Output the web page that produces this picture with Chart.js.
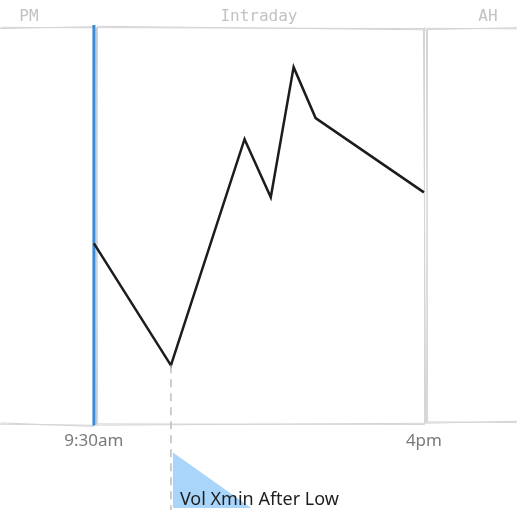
<!DOCTYPE html>
<html>
<head>
<meta charset="utf-8">
<script src="https://cdn.jsdelivr.net/npm/chart.js@4.4.1/dist/chart.umd.min.js"></script>
<style>
  html, body { margin: 0; padding: 0; background: #fff; }
  #wrap { width: 517px; height: 520px; }
</style>
</head>
<body>
<div id="wrap"><canvas id="chart"></canvas></div>
<script>
'use strict';

// minutes since midnight for each price point
const times  = [570, 661, 748, 779, 806, 832, 960];
const prices = [45.6, 14.9, 71.8, 57.2, 89.9, 77.1, 58.4];

// session boundaries and labels
const sessionNames = ['PM', 'Intraday', 'AH'];
const openTime  = 570;   // 9:30am
const closeTime = 960;   // 4pm
const tickTimes  = [openTime, closeTime];
const tickLabels = ['9:30am', '4pm'];

// volume window after the low
const volWindowMin = 95;
const volLabel = 'Vol Xmin After Low';

// a line drawn twice with small fixed wobble, sketch style
function roughLine(ctx, x1, y1, x2, y2, d) {
  d = d || 1.2;
  ctx.beginPath();
  ctx.moveTo(x1 - d * 0.4, y1 + d * 0.5);
  ctx.lineTo(x2 + d * 0.6, y2 - d * 0.3);
  ctx.moveTo(x1 + d * 0.5, y1 - d * 0.6);
  ctx.lineTo(x2 - d * 0.3, y2 + d * 0.7);
  ctx.stroke();
}

const sessionPlugin = {
  id: 'sessions',
  beforeDatasetsDraw(chart) {
    const ctx = chart.ctx;
    const area = chart.chartArea;
    const x = chart.scales.x;
    const xo = x.getPixelForValue(openTime);
    const xc = x.getPixelForValue(closeTime);
    const top = area.top, bot = area.bottom;

    ctx.save();
    ctx.strokeStyle = '#d4d4d4';
    ctx.lineWidth = 1;
    // PM box
    roughLine(ctx, area.left, top + 1, xo, top);
    roughLine(ctx, area.left, bot - 1, xo, bot + 1);
    // Intraday box
    roughLine(ctx, xo + 3, top, xc + 2, top + 2);
    roughLine(ctx, xo + 3, bot, xc + 1, bot - 1);
    roughLine(ctx, xo + 3, top, xo + 3, bot);
    roughLine(ctx, xc, top + 1, xc + 1, bot - 1);
    // AH box
    roughLine(ctx, xc + 3, top + 2, area.right, top + 1);
    roughLine(ctx, xc + 3, bot - 2, area.right, bot - 3);
    roughLine(ctx, xc + 3, top + 2, xc + 3, bot - 2);

    // open marker
    ctx.strokeStyle = '#3a8ad6';
    ctx.lineWidth = 3;
    ctx.beginPath();
    ctx.moveTo(xo, top - 2);
    ctx.lineTo(xo, bot + 1);
    ctx.stroke();
    ctx.strokeStyle = 'rgba(58,138,214,0.35)';
    ctx.lineWidth = 1;
    ctx.beginPath();
    ctx.moveTo(xo + 2, top);
    ctx.lineTo(xo + 2, bot);
    ctx.stroke();

    // session labels
    ctx.fillStyle = '#c2c2c2';
    ctx.font = '16px "DejaVu Sans Mono"';
    ctx.textAlign = 'center';
    ctx.textBaseline = 'alphabetic';
    ctx.fillText(sessionNames[0], 29, top - 6);
    ctx.fillText(sessionNames[1], (xo + xc) / 2, top - 6);
    ctx.fillText(sessionNames[2], 488, top - 6);
    ctx.restore();
  },
  afterDraw(chart) {
    const ctx = chart.ctx;
    const x = chart.scales.x, y = chart.scales.y;
    // locate the low
    let lowIdx = 0;
    for (let i = 1; i < prices.length; i++) {
      if (prices[i] < prices[lowIdx]) lowIdx = i;
    }
    const lx = x.getPixelForValue(times[lowIdx]);
    const ly = y.getPixelForValue(prices[lowIdx]);
    const rx = x.getPixelForValue(times[lowIdx] + volWindowMin);
    const base = chart.height - 12;
    const triTop = chart.chartArea.bottom + 28;

    ctx.save();
    // volume wedge
    ctx.fillStyle = '#a9d5fb';
    ctx.beginPath();
    ctx.moveTo(lx + 2, triTop);
    ctx.lineTo(lx + 2, base);
    ctx.lineTo(rx, base);
    ctx.closePath();
    ctx.fill();

    // dashed drop line from the low
    ctx.strokeStyle = '#bdbdbd';
    ctx.lineWidth = 1.5;
    ctx.setLineDash([8, 6]);
    ctx.beginPath();
    ctx.moveTo(lx, ly);
    ctx.lineTo(lx, base + 2);
    ctx.stroke();
    ctx.setLineDash([]);

    ctx.fillStyle = '#1e1e1e';
    ctx.font = '18px "Noto Sans"';
    ctx.textAlign = 'left';
    ctx.textBaseline = 'alphabetic';
    ctx.fillText(volLabel, lx + 9, base - 3);
    ctx.restore();
  }
};

const ctx = document.getElementById('chart');
new Chart(ctx, {
  type: 'line',
  data: {
    datasets: [{
      data: times.map((t, i) => ({ x: t, y: prices[i] })),
      borderColor: '#1c1c1c',
      borderWidth: 2.5,
      pointRadius: 0,
      tension: 0,
      fill: false
    }]
  },
  options: {
    responsive: true,
    maintainAspectRatio: false,
    animation: false,
    events: [],
    layout: { padding: { top: 27, bottom: 63, left: 0, right: 0 } },
    plugins: { legend: { display: false }, tooltip: { enabled: false } },
    scales: {
      x: {
        type: 'linear',
        min: 459,
        max: 1070,
        grid: { display: false, drawTicks: false },
        border: { display: false },
        afterBuildTicks(scale) {
          scale.ticks = tickTimes.map(v => ({ value: v }));
        },
        ticks: {
          padding: 6,
          autoSkip: false,
          maxRotation: 0,
          color: '#7a7a7a',
          font: { family: '"Noto Sans"', size: 17 },
          callback(v) {
            const i = tickTimes.indexOf(v);
            return i >= 0 ? tickLabels[i] : '';
          }
        }
      },
      y: {
        display: false,
        min: 0,
        max: 100
      }
    }
  },
  plugins: [sessionPlugin]
});
</script>
</body>
</html>
